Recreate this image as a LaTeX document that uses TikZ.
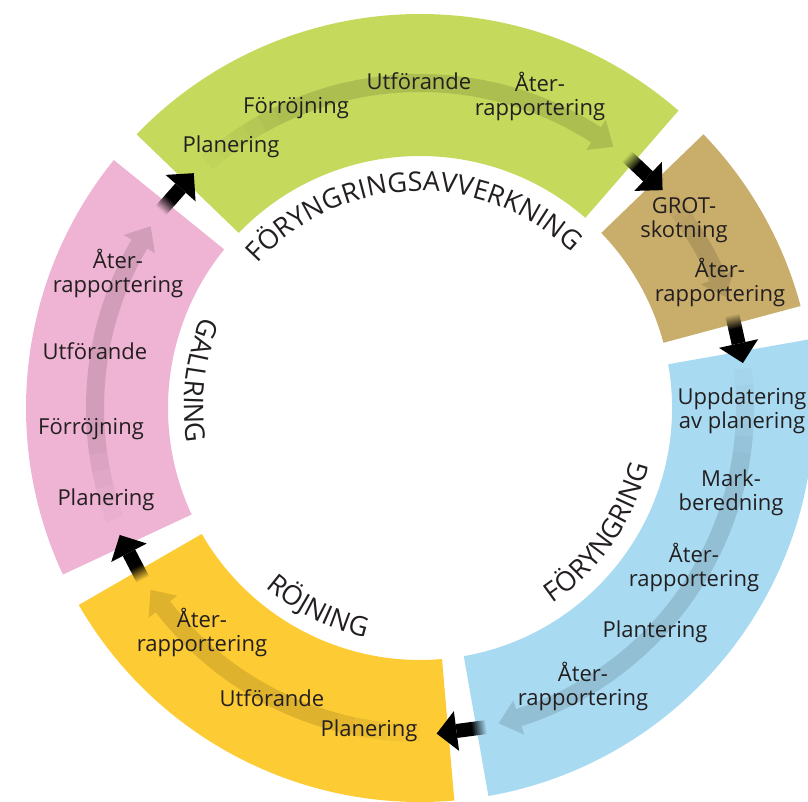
\documentclass[tikz,border=0pt]{standalone}
\usepackage{fontspec}
\setmainfont{Open Sans}
\usepackage{tikz}
\usetikzlibrary{
  calc,
  decorations.text
}
\definecolor{ink}{HTML}{231F20}
\definecolor{favgreen}{HTML}{C5D95C}
\definecolor{grotbrown}{HTML}{C9AD6A}
\definecolor{fyblue}{HTML}{A8DAF2}
\definecolor{rjyellow}{HTML}{FDCB33}
\definecolor{gapink}{HTML}{EFB3D3}

\newcommand{\tasksize}{\fontsize{22}{24}\selectfont}
\newcommand{\namesize}{\fontsize{27}{30}\selectfont}

\tikzset{
  task/.style={
    font=\tasksize,
    text=ink,
    align=center,
    inner sep=0pt,
  },
  trail/.style={
    fill=black,
    opacity=0.12,
  },
  passhead/.style={
    fill=black,
  },
}

% ring part: start angle, end angle, colour
\newcommand{\phase}[3]{%
  \fill[#3] (#1:252) arc[start angle=#1, end angle=#2, radius=252]
    -- (#2:394) arc[start angle=#2, end angle=#1, radius=394] -- cycle;}

% faint arrow in a part: start angle, tip angle, fade step
\newcommand{\phasearrow}[3]{%
  \foreach \k [evaluate=\k as \op using 0.02*\k,
               evaluate=\k as \a using #1-#3*\k+#3,
               evaluate=\k as \b using #1-#3*\k] in {1,...,6}
    \fill[trail, opacity=\op] (\a:316) arc[start angle=\a, end angle=\b, radius=316]
      -- (\b:334) arc[start angle=\b, end angle=\a, radius=334] -- cycle;
  \fill[trail] (#1-6*#3:316) arc[start angle=#1-6*#3, end angle=#2+3.7, radius=316]
    -- (#2+3.7:307) -- (#2:325) -- (#2+3.7:343) -- (#2+3.7:334)
    arc[start angle=#2+3.7, end angle=#1-6*#3, radius=334] -- cycle;}

% black arrow over a gap: gap angle, colour it leaves
\newcommand{\passarrow}[2]{%
  \begin{scope}[transform canvas={rotate around={#1:(ctr)}}]
    \shade[top color=#2, bottom color=black] ($(ctr)+(318,24)$) rectangle ($(ctr)+(332,9)$);
    \fill[passhead] ($(ctr)+(318,9.5)$) rectangle ($(ctr)+(332,-6)$);
    \fill[passhead] ($(ctr)+(305,-6)$) -- ($(ctr)+(345,-6)$) -- ($(ctr)+(325,-26)$) -- cycle;
  \end{scope}}

% curved name: text, start angle, end angle, radius
\newcommand{\phasename}[4]{%
  \path[decorate, decoration={text along path, text align=center, text color=ink,
      text={|\namesize|#1}}]
    (#2:#4) arc[start angle=#2, end angle=#3, radius=#4];}

\begin{document}
\begin{tikzpicture}[x=1pt, y=1pt]
		\useasboundingbox (0,0) rectangle (808,802);
		\clip (0,0) rectangle (808,802);
		\coordinate (ctr) at (420,394);

		% ring
		\begin{scope}[shift={(ctr)}]
			\phase{49}{136}{favgreen}
			\phase{15}{44}{grotbrown}
			\phase{-80}{10}{fyblue}
			\phase{210}{275}{rjyellow}
			\phase{141}{205}{gapink}

			\phasearrow{131}{53.5}{3}
			\phasearrow{40}{20}{1.5}
			\phasearrow{7}{-76}{3}
			\phasearrow{270}{214}{3}
			\phasearrow{200}{146}{3}

			\phasename{FÖRYNGRINGSAVVERKNING}{172}{12}{217}
			\phasename{GALLRING}{93}{253}{236}
			\phasename{RÖJNING}{163}{323}{236}
			\phasename{FÖRYNGRING}{-115}{45}{236}
		\end{scope}

		% arrows between the parts
		\passarrow{46.5}{favgreen}
		\passarrow{12.5}{grotbrown}
		\passarrow{-82.5}{fyblue}
		\passarrow{207.5}{rjyellow}
		\passarrow{138.5}{gapink}

		% tasks
		\node[task] (fav1) at (231,655) {Planering};
		\node[task] (fav2) at (296,694) {Förröjning};
		\node[task] (fav3) at (419,721) {Utförande};
		\node[task] (fav4) at (540,706) {Åter-\\rapportering};

		\node[task] (grot1) at (684,582) {GROT-\\skotning};
		\node[task] (grot2) at (720,520) {Åter-\\rapportering};

		\node[task] (fy1) at (742,391) {Uppdatering\\av planering};
		\node[task] (fy2) at (731,309) {Mark-\\beredning};
		\node[task] (fy3) at (694,235) {Åter-\\rapportering};
		\node[task] (fy4) at (655,170) {Plantering};
		\node[task] (fy5) at (583,116) {Åter-\\rapportering};

		\node[task] (rj1) at (369,71) {Planering};
		\node[task] (rj2) at (272,104) {Utförande};
		\node[task] (rj3) at (202,170) {Åter-\\rapportering};

		\node[task] (ga1) at (106,302) {Planering};
		\node[task] (ga2) at (91,373) {Förröjning};
		\node[task] (ga3) at (95,451) {Utförande};
		\node[task] (ga4) at (118,529) {Åter-\\rapportering};

	\end{tikzpicture}
\end{document}
